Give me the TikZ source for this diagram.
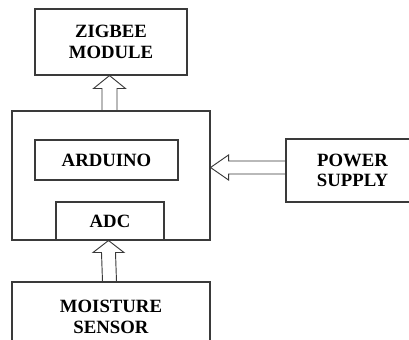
\documentclass[tikz,border=0pt]{standalone}
\usepackage{fontspec}
\setmainfont{Liberation Serif}
\usetikzlibrary{calc}
\definecolor{LineGray}{HTML}{3A3A3A}

\begin{document}
\begin{tikzpicture}[
    x=0.03cm, y=-0.03cm,
    blk/.style={draw=LineGray, line width=0.9pt, inner sep=0pt, align=center,
                font=\fontsize{16}{17.5}\selectfont\bfseries},
    hollow/.style={draw=LineGray, line width=0.8pt, line join=miter}
  ]
    \useasboundingbox (0,0) rectangle (409,340);
    \clip (0,0) rectangle (409,340);

    \node[blk, minimum width=4.56cm, minimum height=1.98cm] (zigbee) at (111,42)    {ZIGBEE\\MODULE};
    \node[blk, minimum width=5.94cm, minimum height=3.87cm] (mcu)    at (111,175.5) {};
    \node[blk, minimum width=4.29cm, minimum height=1.2cm]  (arduino) at (106.5,160) {ARDUINO};
    \node[blk, minimum width=3.24cm, minimum height=1.14cm] (adc)    at (110,221)   {ADC};
    \node[blk, minimum width=3.99cm, minimum height=1.89cm] (power)  at (352.5,170.5) {POWER\\SUPPLY};
    \node[blk, minimum width=5.94cm, minimum height=2.1cm]  (sensor) at (111,317)   {MOISTURE\\SENSOR};

    % sensor -> adc
    \draw[hollow] ($(sensor.north)+(-8.5,0)$) -- ($(adc.south)+(-8.5,12)$) -- ($(adc.south)+(-17,12)$)
      -- ($(adc.south)+(-1.5,0)$) -- ($(adc.south)+(14,12)$) -- ($(adc.south)+(5.5,12)$) -- ($(sensor.north)+(5.5,0)$);
    % mcu -> zigbee
    \draw[hollow] ($(mcu.north)+(-9,0)$) -- ($(zigbee.south)+(-9,13)$) -- ($(zigbee.south)+(-17.5,13)$)
      -- ($(zigbee.south)+(-1.5,0)$) -- ($(zigbee.south)+(14.5,13)$) -- ($(zigbee.south)+(6,13)$) -- ($(mcu.north)+(6,0)$);
    % power -> mcu
    \draw[hollow] ($(power.west)+(0,-9.5)$) -- ($(mcu.east)+(18,-14.5)$) -- ($(mcu.east)+(18,-20.5)$)
      -- ($(mcu.east)+(0,-8)$) -- ($(mcu.east)+(18,4.5)$) -- ($(mcu.east)+(18,-1.5)$) -- ($(power.west)+(0,3.5)$);
\end{tikzpicture}
\end{document}
